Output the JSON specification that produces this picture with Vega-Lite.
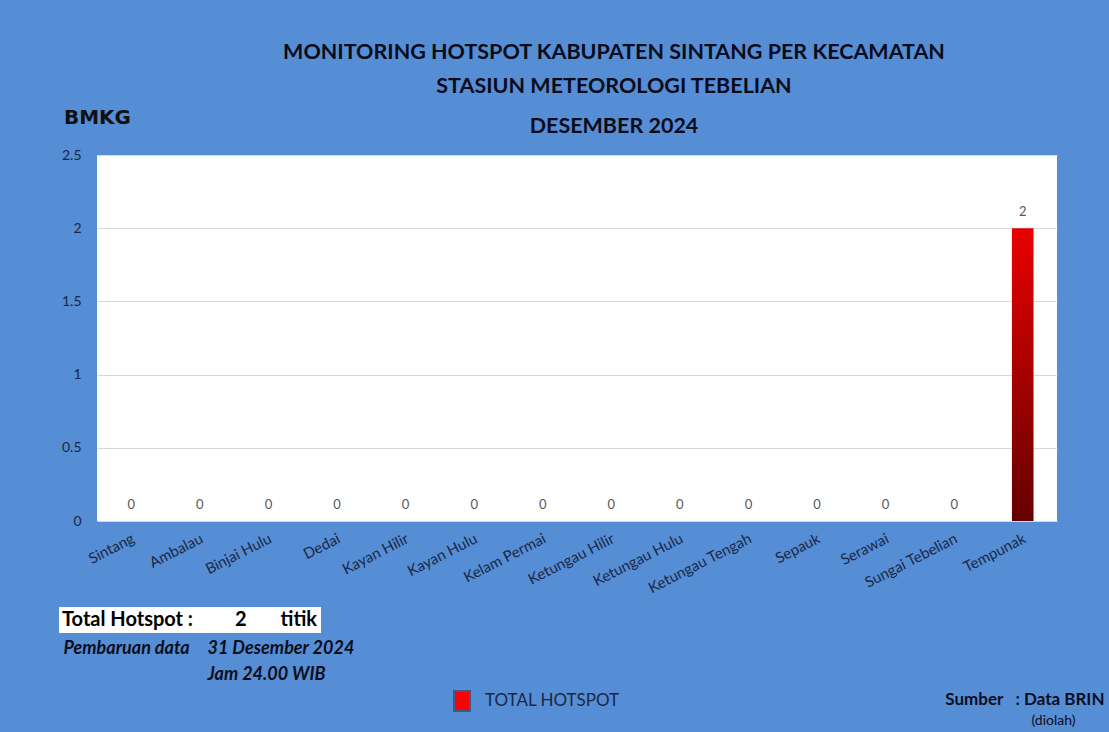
{
  "$schema": "https://vega.github.io/schema/vega-lite/v6.json",
  "width": 960,
  "height": 366,
  "autosize": {"type": "none"},
  "padding": {"left": 97, "top": 155, "right": 52, "bottom": 211},
  "background": "#558ED5",
  "config": {"view": {"fill": "#FFFFFF", "stroke": null}, "font": "Lato"},
  "title": {
    "text": ["MONITORING HOTSPOT KABUPATEN SINTANG PER KECAMATAN", "STASIUN METEOROLOGI TEBELIAN"],
    "subtitle": "DESEMBER 2024",
    "anchor": "middle",
    "frame": "group",
    "dx": 37,
    "offset": -30,
    "font": "Lato",
    "fontSize": 21.5,
    "fontWeight": "bold",
    "color": "#0B0B1A",
    "lineHeight": 34,
    "subtitleFont": "Lato",
    "subtitleFontSize": 21.5,
    "subtitleFontWeight": "bold",
    "subtitleColor": "#0B0B1A",
    "subtitlePadding": 18
  },
  "data": {
    "values": [
      {"kecamatan": "Sintang", "hotspot": 0},
      {"kecamatan": "Ambalau", "hotspot": 0},
      {"kecamatan": "Binjai Hulu", "hotspot": 0},
      {"kecamatan": "Dedai", "hotspot": 0},
      {"kecamatan": "Kayan Hilir", "hotspot": 0},
      {"kecamatan": "Kayan Hulu", "hotspot": 0},
      {"kecamatan": "Kelam Permai", "hotspot": 0},
      {"kecamatan": "Ketungau Hilir", "hotspot": 0},
      {"kecamatan": "Ketungau Hulu", "hotspot": 0},
      {"kecamatan": "Ketungau Tengah", "hotspot": 0},
      {"kecamatan": "Sepauk", "hotspot": 0},
      {"kecamatan": "Serawai", "hotspot": 0},
      {"kecamatan": "Sungai Tebelian", "hotspot": 0},
      {"kecamatan": "Tempunak", "hotspot": 2}
    ]
  },
  "layer": [
    {
      "mark": {
        "type": "bar",
        "color": {
          "gradient": "linear",
          "x1": 0, "y1": 0, "x2": 0, "y2": 1,
          "stops": [
            {"offset": 0, "color": "#E80000"},
            {"offset": 1, "color": "#640000"}
          ]
        }
      },
      "encoding": {
        "x": {
          "field": "kecamatan",
          "type": "nominal",
          "sort": null,
          "scale": {"paddingInner": 0.685, "paddingOuter": 0.3425},
          "axis": {
            "orient": "bottom",
            "labelAngle": -27,
            "labelAlign": "right",
            "labelBaseline": "middle",
            "labelPadding": 16,
            "labelOffset": 2,
            "labelFont": "Lato",
            "labelFontSize": 15,
            "labelColor": "#1A2744",
            "labelOverlap": false,
            "ticks": false,
            "domain": false,
            "grid": false,
            "title": "Pembaruan data",
            "titleX": -34,
            "titleY": 132,
            "titleAlign": "left",
            "titleAngle": 0,
            "titleBaseline": "alphabetic",
            "titleFont": "Lato",
            "titleFontSize": 18,
            "titleFontWeight": "bold",
            "titleFontStyle": "italic",
            "titleColor": "#0D0D20"
          }
        },
        "y": {
          "field": "hotspot",
          "type": "quantitative",
          "scale": {"domain": [0, 2.5], "padding": 0, "nice": false, "zero": true},
          "axis": {
            "orient": "left",
            "values": [0, 0.5, 1, 1.5, 2, 2.5],
            "format": "~g",
            "grid": true,
            "gridColor": "#D9D9D9",
            "gridWidth": 1,
            "domain": false,
            "ticks": false,
            "labelPadding": 16,
            "labelFont": "Lato",
            "labelFontSize": 14,
            "labelColor": "#1A2744",
            "title": "BMKG",
            "titleAngle": 0,
            "titleX": 0,
            "titleY": -32,
            "titleAlign": "center",
            "titleBaseline": "alphabetic",
            "titleFont": "DejaVu Sans",
            "titleFontSize": 20,
            "titleFontWeight": "bold",
            "titleColor": "#111111"
          }
        }
      }
    },
    {
      "mark": {"type": "text", "dy": -12, "baseline": "alphabetic", "font": "Lato", "fontSize": 13, "color": "#595959"},
      "encoding": {
        "x": {
          "field": "kecamatan",
          "type": "nominal",
          "sort": null,
          "axis": {
            "orient": "bottom",
            "labels": false,
            "ticks": false,
            "domain": false,
            "grid": false,
            "title": ["31 Desember 2024", "Jam 24.00 WIB"],
            "titleX": 110,
            "titleY": 132,
            "titleAlign": "left",
            "titleAngle": 0,
            "titleBaseline": "alphabetic",
            "titleLineHeight": 26,
            "titleFont": "Lato",
            "titleFontSize": 18,
            "titleFontWeight": "bold",
            "titleFontStyle": "italic",
            "titleColor": "#0D0D20"
          }
        },
        "y": {
          "field": "hotspot",
          "type": "quantitative",
          "axis": {
            "orient": "right",
            "labels": false,
            "ticks": false,
            "domain": false,
            "grid": false,
            "title": "Sumber\u00a0\u00a0\u00a0: Data BRIN",
            "titleAngle": 0,
            "titleX": 47,
            "titleY": 549,
            "titleAlign": "right",
            "titleBaseline": "alphabetic",
            "titleFont": "Lato",
            "titleFontSize": 17,
            "titleFontWeight": "bold",
            "titleColor": "#0D0D20"
          }
        },
        "text": {"field": "hotspot", "type": "quantitative"}
      }
    },
    {
      "transform": [{"aggregate": [{"op": "sum", "field": "hotspot", "as": "total"}]}],
      "mark": {"type": "point", "filled": true, "opacity": 0},
      "encoding": {
        "y": {
          "field": "total",
          "type": "quantitative",
          "axis": {
            "orient": "right",
            "labels": false,
            "ticks": false,
            "domain": false,
            "grid": false,
            "title": "(diolah)",
            "titleAngle": 0,
            "titleX": -4,
            "titleY": 569,
            "titleAlign": "center",
            "titleBaseline": "alphabetic",
            "titleFont": "Lato",
            "titleFontSize": 14,
            "titleFontWeight": "normal",
            "titleColor": "#0D0D20"
          }
        },
        "shape": {
          "field": "total",
          "type": "nominal",
          "legend": {
            "title": "Total Hotspot :",
            "orient": "none",
            "legendX": -38,
            "legendY": 452,
            "direction": "horizontal",
            "titleOrient": "left",
            "titleFont": "Lato",
            "titleFontSize": 20,
            "titleFontWeight": "bold",
            "titleColor": "#000000",
            "titlePadding": 19,
            "labelFont": "Lato",
            "labelFontSize": 20,
            "labelFontWeight": "bold",
            "labelColor": "#000000",
            "labelExpr": "datum.label + '\u00a0\u00a0\u00a0\u00a0\u00a0\u00a0\u00a0titik\u00a0\u00a0'",
            "symbolSize": 0,
            "symbolOpacity": 0,
            "symbolStrokeWidth": 0,
            "labelOffset": 2,
            "fillColor": "#FFFFFF",
            "padding": 3
          }
        },
        "color": {
          "datum": "TOTAL HOTSPOT",
          "type": "nominal",
          "scale": {"range": ["#FF0000"]},
          "legend": {
            "title": null,
            "orient": "none",
            "legendX": 354,
            "legendY": 535,
            "symbolType": "M-0.8,-1H0.8V1H-0.8Z",
            "symbolSize": 400,
            "symbolOpacity": 1,
            "symbolStrokeColor": "#3D5A8A",
            "symbolStrokeWidth": 2,
            "labelFont": "Lato",
            "labelFontSize": 17,
            "labelColor": "#1A2744",
            "labelOffset": 12,
            "padding": 0
          }
        }
      }
    }
  ],
  "resolve": {"axis": {"x": "independent", "y": "independent"}}
}
